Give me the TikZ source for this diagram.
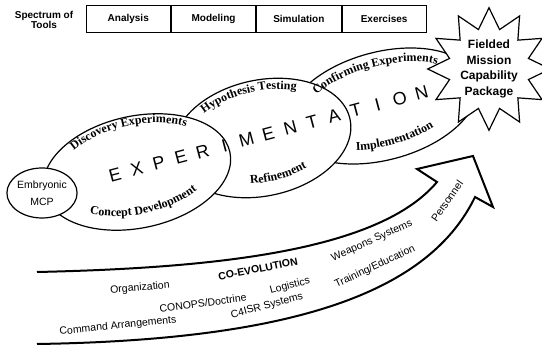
\documentclass[tikz,border=0pt]{standalone}
\usepackage{fontspec}
\setmainfont{Liberation Sans}
\newfontfamily\serifbold{Liberation Serif}
\usetikzlibrary{positioning,shapes.geometric,decorations.text}

\tikzstyle{tool} = [rectangle, draw, line width=0.8pt, minimum width=84.5, minimum height=27, inner sep=0pt, font=\bfseries\fontsize{10}{12}\selectfont]
\tikzstyle{phase} = [draw, fill=white, line width=1.2pt]
\tikzstyle{bigletter} = [font=\fontsize{18}{18}\selectfont, rotate=15, inner sep=0pt]
\tikzstyle{force} = [font=\fontsize{10.5}{12}\selectfont, inner sep=0pt]
\tikzstyle{sweep} = [draw, line width=2pt, line join=miter]
\tikzstyle{bent} = [decorate, decoration={text along path, text align=center, text={|\lbl|#1}}]

\newcommand{\lbl}{\serifbold\bfseries\fontsize{12}{12}\selectfont}

\begin{document}
\begin{tikzpicture}[x=1pt, y=-1pt]
	\useasboundingbox (0,0) rectangle (542,347);
	% Tools row
	\node [font=\bfseries\fontsize{10}{10.5}\selectfont, align=center] (spectrum) at (44,20) {Spectrum of\\Tools};
	\node [tool] (analysis) at (128.25,18.5) {Analysis};
	\node [tool, right=0pt of analysis] (modeling) {Modeling};
	\node [tool, right=0pt of modeling] (simulation) {Simulation};
	\node [tool, right=0pt of simulation] (exercises) {Exercises};
	
	% Phases, back to front
	\draw [phase, rotate around={15:(382,106)}] (382,106) ellipse [x radius=98, y radius=54];
	\node [star, star points=12, star point ratio=1.5, draw, fill=white, line width=1.2pt, inner sep=0pt, minimum size=112, align=center, font=\bfseries\fontsize{12}{15.5}\selectfont] (fielded) at (489,69) {Fielded\\Mission\\Capability\\Package};
	\draw [phase, rotate around={12:(262,138)}] (262,138) ellipse [x radius=90, y radius=58];
	\draw [phase, rotate around={12:(137,172)}] (137,172) ellipse [x radius=95, y radius=56];
	\node [phase, ellipse, minimum width=52, minimum height=50, inner sep=0pt, align=center, font=\fontsize{10.5}{17}\selectfont] (embryo) at (42,193) {Embryonic\\MCP};
	
	% Big lettering across the phases
	\foreach \l [count=\i from 0] in {E,X,P,E,R,I,M,E,N,T,A,T,I,O,N}
		\node [bigletter] (let\i) at ({115+21.9*\i},{175-5.86*\i}) {\l};
	
	% Labels bent along the phase outlines
	\begin{scope}[shift={(137,172)}, rotate=12]
		\path [bent=Discovery Experiments] (195:83 and 47) arc [start angle=195, end angle=345, x radius=83, y radius=47];
		\path [bent=Concept Development] (165:80 and 42) arc [start angle=165, end angle=15, x radius=80, y radius=42];
	\end{scope}
	\begin{scope}[shift={(262,138)}, rotate=12]
		\path [bent=Hypothesis Testing] (195:80 and 47) arc [start angle=195, end angle=335, x radius=80, y radius=47];
		\path [bent=Refinement] (150:78 and 44) arc [start angle=150, end angle=10, x radius=78, y radius=44];
	\end{scope}
	\begin{scope}[shift={(382,106)}, rotate=15]
		\path [bent=Confirming Experiments] (200:84 and 40) arc [start angle=200, end angle=345, x radius=84, y radius=40];
		\path [bent=Implementation] (155:84 and 40) arc [start angle=155, end angle=15, x radius=84, y radius=40];
	\end{scope}
	
	% Co-evolution sweep
	\draw [sweep] (37,272) .. controls (220,268) and (380,250) .. (437,182) -- (417,169) -- (473,156) -- (493,207) -- (475,197) .. controls (430,290) and (300,340) .. (37,344);
	\node [force, rotate=5] (organization) at (140,288) {Organization};
	\node [force, font=\bfseries\fontsize{10.5}{12}\selectfont, rotate=11] (coevolution) at (258,269) {CO-EVOLUTION};
	\node [force, rotate=8] (conops) at (203,303) {CONOPS/Doctrine};
	\node [force, rotate=6] (command) at (118,326) {Command Arrangements};
	\node [force, rotate=15] (c4isr) at (267,306) {C4ISR Systems};
	\node [force, rotate=15] (logistics) at (290,286) {Logistics};
	\node [force, rotate=24] (weapons) at (372,241) {Weapons Systems};
	\node [force, rotate=25] (training) at (375,267) {Training/Education};
	\node [force, rotate=55] (personnel) at (447,201) {Personnel};
\end{tikzpicture}
\end{document}
